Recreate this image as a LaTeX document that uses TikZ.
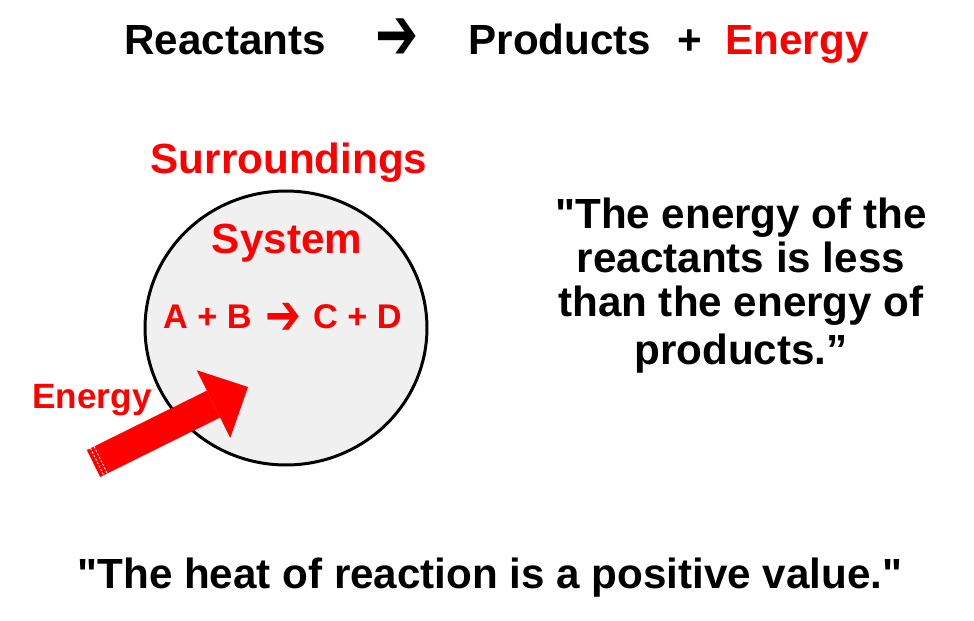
\documentclass[tikz,border=0pt]{standalone}
\usepackage{fontspec}
\setmainfont{Liberation Sans}[Ligatures=TeXOff]
\newfontfamily\dingfont{DejaVu Sans}
\usetikzlibrary{arrows.meta,shapes.geometric}

\definecolor{heatred}{RGB}{255,0,0}
\definecolor{sysgray}{RGB}{240,240,240}

\tikzset{
  bigtxt/.style={inner sep=0pt,anchor=base,font=\fontsize{24}{25}\selectfont\bfseries},
  redtxt/.style={bigtxt,text=heatred},
  smalltxt/.style={inner sep=0pt,anchor=base,text=heatred,font=\fontsize{19.5}{22}\selectfont\bfseries},
}
\newcommand{\heavyarrow}[2]{\scalebox{#1}[#2]{\dingfont ➔}}

\begin{document}
\begin{tikzpicture}[x=0.02cm,y=-0.02cm]
\useasboundingbox (0,0) rectangle (974,620);

% the equation on top
\draw (225,54) node(REAC)[bigtxt]{Reactants};
\draw (397,39) node(ARR)[bigtxt,anchor=center]{\heavyarrow{1.22}{1.75}};
\draw (560,54) node(PROD)[bigtxt]{Products};
\draw (690,54) node(PLUS)[bigtxt]{+};
\draw (797,54) node(ENER)[redtxt]{Energy};

% system inside its surroundings
\draw (286,328) node(SYS)[ellipse,draw,line width=1.7pt,fill=sysgray,minimum width=5.64cm,minimum height=5.48cm]{};
\draw (289,173) node(SURR)[redtxt]{Surroundings};
\draw (287,253) node(SYSTXT)[redtxt]{System};
\draw (207.5,328) node(AB)[smalltxt]{A + B};
\draw (283.5,319) node(RXNARR)[smalltxt,anchor=center]{\heavyarrow{1.25}{1.65}};
\draw (357.5,328) node(CD)[smalltxt]{C + D};
\draw (92,408) node(EIN)[smalltxt,font=\fontsize{20}{22}\selectfont\bfseries]{Energy};

% energy flowing in
\coordinate (TAIL) at (93.5,463.5);
\coordinate (TIP) at (248,387);
\draw[heatred,line width=0.6cm,-{Triangle[width=1.51cm,length=0.77cm,line width=0pt]}] (TAIL) -- (TIP);
\draw[white,line width=0.5pt,dash pattern=on 1.2pt off 1pt] (90.5,448.2) -- (103.7,475.2);
\draw[white,line width=0.5pt,dash pattern=on 1.2pt off 1pt] (94.1,446.5) -- (107.3,473.5);

% the two statements
\draw (741,285.5) node(CLAIM)[bigtxt,anchor=center,align=center]{"The energy of the\\reactants is less\\than the energy of\\[2pt]products.”};
\draw (490,588) node(HEAT)[bigtxt]{"The heat of reaction is a positive value."};

\end{tikzpicture}
\end{document}
